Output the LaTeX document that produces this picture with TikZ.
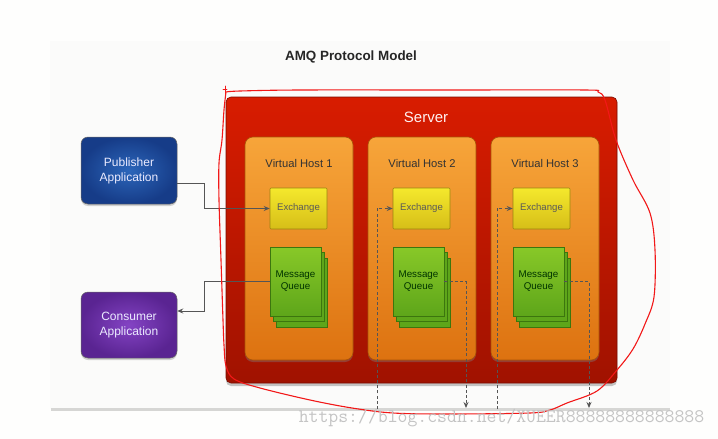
\documentclass[tikz,border=0pt]{standalone}
\usepackage{fontspec}
\setmainfont{Liberation Sans}
\usetikzlibrary{arrows.meta,shadows,calc}
\definecolor{bgcol}{HTML}{FEFEFD}
\definecolor{panelcol}{HTML}{FBFBFA}
\definecolor{basegray}{HTML}{D6D6D4}
\definecolor{srvtop}{HTML}{D81C00}
\definecolor{srvbot}{HTML}{A01200}
\definecolor{srvdraw}{HTML}{7A0C00}
\definecolor{vhtop}{HTML}{F7A53A}
\definecolor{vhbot}{HTML}{DD7210}
\definecolor{vhdraw}{HTML}{A85408}
\definecolor{extop}{HTML}{F4E82C}
\definecolor{exbot}{HTML}{D6BE18}
\definecolor{exdraw}{HTML}{9C8410}
\definecolor{mqtop}{HTML}{88C828}
\definecolor{mqbot}{HTML}{5EA61A}
\definecolor{mqdraw}{HTML}{3C760E}
\definecolor{pubin}{HTML}{2C66BA}
\definecolor{pubout}{HTML}{163C88}
\definecolor{conin}{HTML}{8444C4}
\definecolor{conout}{HTML}{5A2492}
\definecolor{linecol}{HTML}{555555}
\definecolor{redpen}{HTML}{F21818}
\definecolor{wmark}{HTML}{C4C4C4}
\tikzset{
  serverbox/.style={rounded corners=5pt, top color=srvtop, bottom color=srvbot, draw=srvdraw, line width=0.6pt,
    drop shadow={shadow xshift=0pt, shadow yshift=-3pt, opacity=.45}},
  vhbox/.style={rounded corners=8pt, top color=vhtop, bottom color=vhbot, draw=vhdraw, line width=0.6pt,
    minimum width=108pt, minimum height=223pt,
    drop shadow={shadow xshift=0pt, shadow yshift=-2pt, opacity=.4}},
  vhlabel/.style={text=black!80, font=\fontsize{11.2}{13}\selectfont},
  exbox/.style={rounded corners=1pt, top color=extop, bottom color=exbot, draw=exdraw, line width=0.6pt,
    minimum width=57pt, minimum height=41pt, text=black!65, font=\fontsize{9.6}{11}\selectfont},
  mqback/.style={fill=mqbot, draw=mqdraw, line width=0.6pt},
  mqbox/.style={top color=mqtop, bottom color=mqbot, draw=mqdraw, line width=0.6pt,
    minimum width=51pt, minimum height=69pt, align=center, text=black!20!green!25!black,
    font=\fontsize{9.8}{12}\selectfont},
  appbox/.style={rounded corners=7pt, draw=black!60, line width=0.5pt, minimum width=96pt, minimum height=67pt,
    align=center, text=white!92!blue, font=\fontsize{12}{15}\selectfont,
    drop shadow={shadow xshift=0pt, shadow yshift=-2pt, opacity=.35}},
  conn/.style={draw=linecol, line width=0.9pt, -{Stealth[length=6pt,width=5pt]}},
  dconn/.style={draw=linecol, line width=0.9pt, dash pattern=on 3pt off 2.2pt, -{Stealth[length=6pt,width=5pt]}},
}
\begin{document}
\begin{tikzpicture}[x=1pt,y=-1pt]
\useasboundingbox (0,0) rectangle (718,439);
\fill[bgcol] (0,0) rectangle (718,439);
\fill[panelcol] (50,41) rectangle (670,409);
\fill[basegray] (51,408) rectangle (670,411);

\node[font=\bfseries\fontsize{13.4}{15}\selectfont, text=black!85] (title) at (351,57) {AMQ Protocol Model};

% server
\node[serverbox, minimum width=391pt, minimum height=286pt] (server) at (421.5,240) {};
\node[text=white!94!red, font=\fontsize{15}{16}\selectfont] (serverlbl) at (426,117) {Server};

% virtual hosts
\node[vhbox] (vh1) at (299,248.5) {};
\node[vhbox] (vh2) at (422,248.5) {};
\node[vhbox] (vh3) at (545,248.5) {};
\node[vhlabel] (vh1lbl) at (299,163) {Virtual Host 1};
\node[vhlabel] (vh2lbl) at (422,163) {Virtual Host 2};
\node[vhlabel] (vh3lbl) at (545,163) {Virtual Host 3};

% exchanges
\node[exbox] (ex1) at (298.5,208.5) {Exchange};
\node[exbox] (ex2) at (421.5,208.5) {Exchange};
\node[exbox] (ex3) at (541.5,208.5) {Exchange};

% message queues (stacked)
\foreach \cx in {295.5,418.5,538.5}{
  \fill[mqback] (\cx-25.5+6.6,247+11.4) rectangle (\cx+25.5+6.6,316+11.4);
  \draw[mqdraw, line width=0.6pt] (\cx-25.5+6.6,247+11.4) rectangle (\cx+25.5+6.6,316+11.4);
  \fill[mqback] (\cx-25.5+3.3,247+5.7) rectangle (\cx+25.5+3.3,316+5.7);
  \draw[mqdraw, line width=0.6pt] (\cx-25.5+3.3,247+5.7) rectangle (\cx+25.5+3.3,316+5.7);
}
\node[mqbox] (mq1) at (295.5,281.5) {Message\\Queue};
\node[mqbox] (mq2) at (418.5,281.5) {Message\\Queue};
\node[mqbox] (mq3) at (538.5,281.5) {Message\\Queue};

% applications
\node[appbox, inner color=pubin, outer color=pubout] (pub) at (129,170.5) {Publisher\\Application};
\node[appbox, inner color=conin, outer color=conout, minimum height=66pt] (con) at (129,325) {Consumer\\Application};

% solid connectors
\draw[conn] ([yshift=-12.5pt]pub.east) -- (204,183) |- (ex1.west);
\draw[conn] (mq1.west) -- (204,281.5) |- ([yshift=14pt]con.east);

% dashed connectors
\coordinate (d2in) at (377,409);
\coordinate (d2out) at (466,408);
\coordinate (d3in) at (497,409);
\coordinate (d3out) at (589,408);
\draw[dconn] (d2in) |- (ex2.west);
\draw[dconn] (mq2.east) -| (d2out);
\draw[dconn] (d3in) |- (ex3.west);
\draw[dconn] (mq3.east) -| (d3out);

% red freehand loop
\draw[redpen, line width=1.1pt, line cap=round, line join=round]
  plot[smooth, tension=0.55] coordinates {
  (226,92) (224,110) (222,140) (219,163) (219,200) (221,260) (223,320) (224,345) (226,366)
  (234,379) (260,388) (310,400) (352,408) (393,413) (450,414) (530,413) (550,410) (567,403)
  (597,391) (617,370) (633,349) (645,324) (654,297) (655,250) (650,213) (633,180) (616,140)
  (605,100) (598,92) (585,90) (450,90) (300,90) (240,91) (226,92)};
\draw[redpen, line width=0.9pt, line cap=round] (225,86) -- (225,94);
\draw[redpen, line width=0.9pt, line cap=round] (223,89) -- (227,89);

% watermark
\node[text=wmark, font=\ttfamily\fontsize{19.2}{20}\selectfont, anchor=center] (wm) at (501.5,418) {https://blog.csdn.net/XUEER88888888888888};
\end{tikzpicture}
\end{document}
